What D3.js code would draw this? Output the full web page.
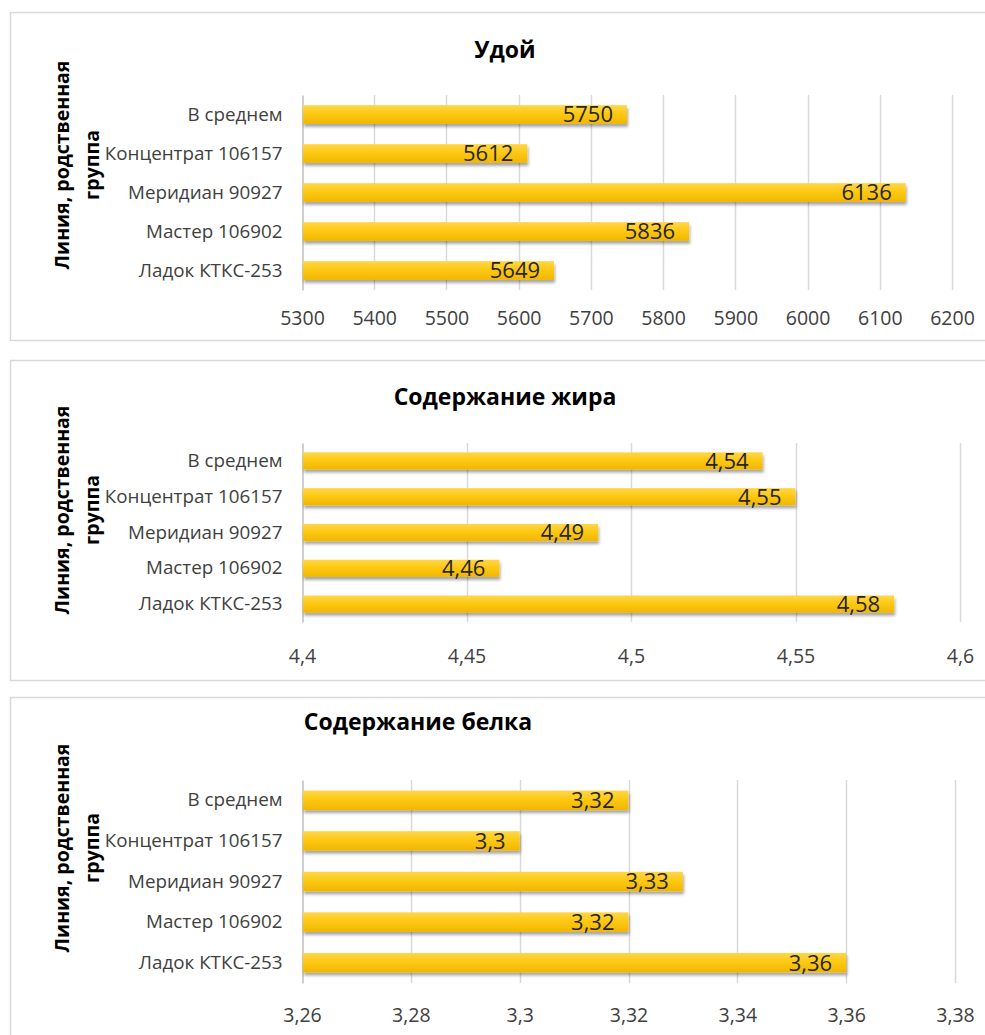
<!DOCTYPE html>
<html>
<head>
<meta charset="utf-8">
<script src="https://cdn.jsdelivr.net/npm/d3@7"></script>
<style>
  body { margin: 0; background: #fff; }
  svg { display: block; font-family: "Open Sans", sans-serif; }
</style>
</head>
<body>
<svg id="chart" width="985" height="1035"></svg>
<script>
// Categories (top to bottom).
var categories = ['В среднем', 'Концентрат 106157', 'Меридиан 90927', 'Мастер 106902', 'Ладок КТКС-253'];

// Series values, same order as categories.
var yieldValues = [5750, 5612, 6136, 5836, 5649];
var fatValues = [4.54, 4.55, 4.49, 4.46, 4.58];
var proteinValues = [3.32, 3.3, 3.33, 3.32, 3.36];

// Tick labels of the value axes.
var yieldTicks = [5300, 5400, 5500, 5600, 5700, 5800, 5900, 6000, 6100, 6200];
var fatTicks = [4.4, 4.45, 4.5, 4.55, 4.6];
var proteinTicks = [3.26, 3.28, 3.3, 3.32, 3.34, 3.36, 3.38];

var titles = ['Удой', 'Содержание жира', 'Содержание белка'];

function comma(v) {
  return String(+v.toFixed(4)).replace('.', ',');
}

var svg = d3.select('#chart');

// Gradient and shadow for the bars.
var defs = svg.append('defs');
var grad = defs.append('linearGradient')
  .attr('id', 'barFill')
  .attr('x1', 0).attr('y1', 0).attr('x2', 0).attr('y2', 1);
grad.append('stop').attr('offset', '0%').attr('stop-color', '#ffd64a');
grad.append('stop').attr('offset', '45%').attr('stop-color', '#fdc913');
grad.append('stop').attr('offset', '100%').attr('stop-color', '#f2b600');

var shadow = defs.append('filter')
  .attr('id', 'barShadow')
  .attr('x', '-5%').attr('y', '-30%')
  .attr('width', '110%').attr('height', '180%');
shadow.append('feDropShadow')
  .attr('dx', 1).attr('dy', 3)
  .attr('stdDeviation', 1.8)
  .attr('flood-color', '#000')
  .attr('flood-opacity', 0.35);

/**
 * Draws one bar panel.
 */
function drawPanel(p) {
  var g = svg.append('g');

  // Panel frame.
  g.append('rect')
    .attr('x', 10.5)
    .attr('y', p.top + 0.5)
    .attr('width', 985)
    .attr('height', p.height)
    .style('fill', '#fff')
    .style('stroke', '#d9d9d9')
    .style('stroke-width', 1.5);

  var x = d3.scaleLinear()
    .domain([p.ticks[0], p.ticks[p.ticks.length - 1]])
    .range([302, p.right]);

  var y = d3.scaleBand()
    .domain(categories)
    .range([p.y0, p.y1])
    .paddingInner(0.52)
    .paddingOuter(0.26);

  // Vertical gridlines.
  g.selectAll('line.grid')
    .data(p.ticks.slice(1))
    .enter().append('line')
    .attr('class', 'grid')
    .attr('x1', function(d) { return Math.round(x(d)) + 0.5; })
    .attr('x2', function(d) { return Math.round(x(d)) + 0.5; })
    .attr('y1', p.y0)
    .attr('y2', p.y1)
    .style('stroke', '#d9d9d9')
    .style('stroke-width', 1.5);

  // Category axis.
  var yAxis = d3.axisLeft(y).tickSize(0).tickPadding(20);
  var ya = g.append('g')
    .attr('transform', 'translate(302.5,0)')
    .call(yAxis);
  ya.select('.domain').style('stroke', '#bfbfbf').style('stroke-width', 1.5);
  ya.selectAll('text')
    .style('font-family', '"Open Sans", sans-serif')
    .style('font-size', '18.8px')
    .style('fill', '#404040');

  // Value axis.
  var xAxis = d3.axisBottom(x)
    .tickValues(p.ticks)
    .tickSize(0)
    .tickPadding(0)
    .tickFormat(comma);
  var xa = g.append('g')
    .attr('transform', 'translate(0,' + p.tickY + ')')
    .call(xAxis);
  xa.select('.domain').remove();
  xa.selectAll('text')
    .attr('dy', 0)
    .style('font-family', '"Open Sans", sans-serif')
    .style('font-size', '19.5px')
    .style('fill', '#404040');

  // Bars.
  g.selectAll('rect.bar')
    .data(p.values)
    .enter().append('rect')
    .attr('class', 'bar')
    .attr('x', x.range()[0] + 1)
    .attr('y', function(d, i) { return y(categories[i]); })
    .attr('width', function(d) { return x(d) - x.range()[0] - 1; })
    .attr('height', y.bandwidth())
    .style('fill', 'url(#barFill)')
    .style('filter', 'url(#barShadow)');

  // Value labels inside the bar ends.
  g.selectAll('text.value')
    .data(p.values)
    .enter().append('text')
    .attr('class', 'value')
    .attr('x', function(d) { return x(d) - 14; })
    .attr('y', function(d, i) { return y(categories[i]) + y.bandwidth() / 2; })
    .attr('dy', '0.36em')
    .style('text-anchor', 'end')
    .style('font-size', '22px')
    .style('fill', '#262626')
    .text(comma);

  // Title.
  g.append('text')
    .attr('x', p.titleX)
    .attr('y', p.titleY)
    .style('text-anchor', 'middle')
    .style('font-size', '23px')
    .style('font-weight', 'bold')
    .style('fill', '#000')
    .text(p.title);

  // Axis title (two lines, rotated).
  var at = g.append('text')
    .attr('transform', 'translate(69,' + p.axisTitleY + ') rotate(-90)')
    .style('text-anchor', 'middle')
    .style('font-size', '19.5px')
    .style('font-weight', 'bold')
    .style('fill', '#000');
  at.append('tspan').attr('x', 0).attr('dy', 0).text('Линия, родственная');
  at.append('tspan').attr('x', 0).attr('dy', '1.55em').text('группа');
}

drawPanel({
  title: titles[0], values: yieldValues, ticks: yieldTicks,
  top: 12, height: 328, right: 952, y0: 95, y1: 290,
  tickY: 325, titleX: 505, titleY: 58, axisTitleY: 165
});
drawPanel({
  title: titles[1], values: fatValues, ticks: fatTicks,
  top: 360, height: 320, right: 960, y0: 443, y1: 622,
  tickY: 663, titleX: 505, titleY: 405, axisTitleY: 510
});
drawPanel({
  title: titles[2], values: proteinValues, ticks: proteinTicks,
  top: 697, height: 360, right: 955, y0: 780, y1: 983,
  tickY: 1022, titleX: 418, titleY: 730, axisTitleY: 848
});
</script>
</body>
</html>
